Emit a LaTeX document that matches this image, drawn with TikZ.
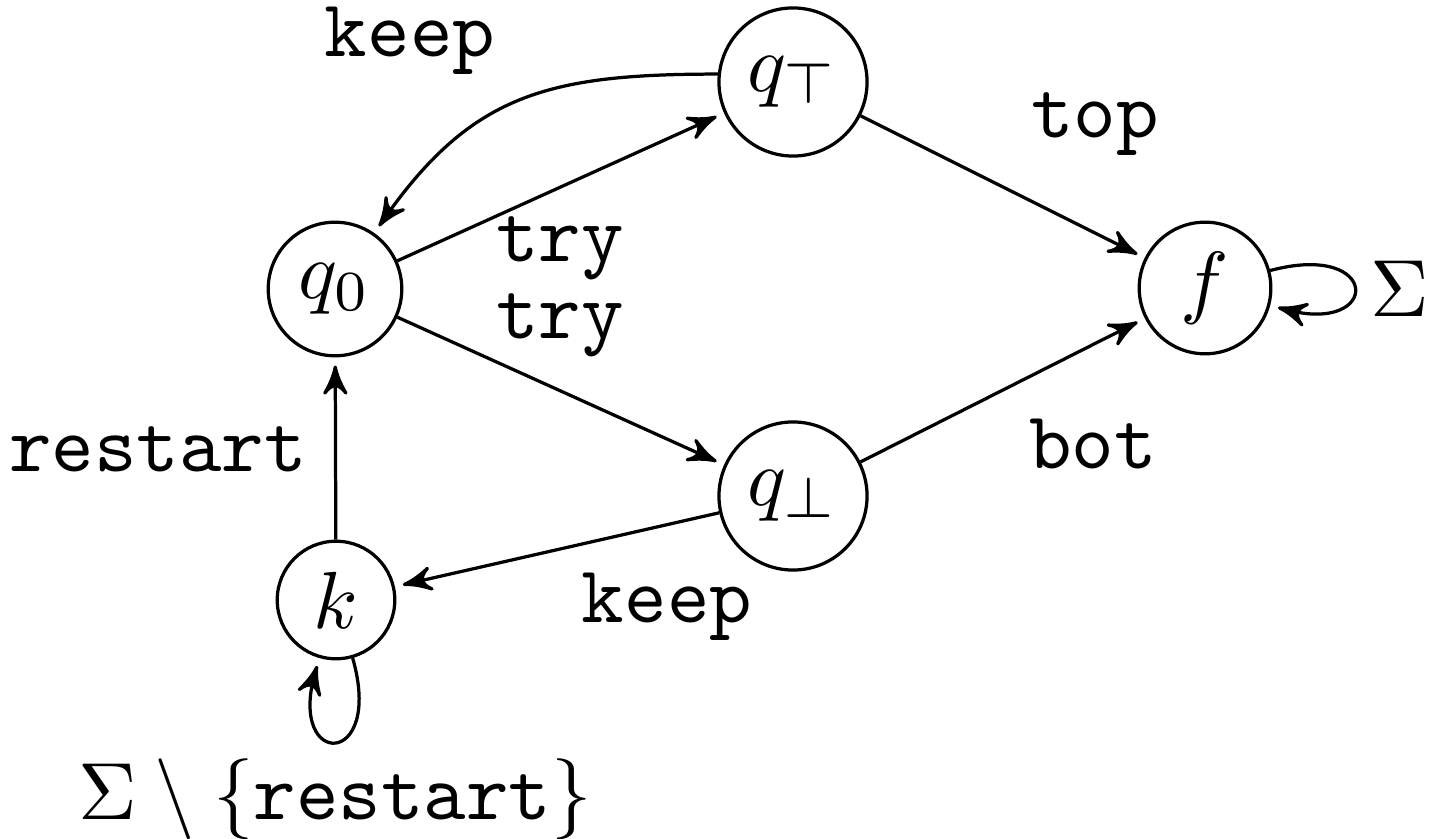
\documentclass[tikz,border=0pt]{standalone}
\usetikzlibrary{arrows,automata}
\begin{document}
\begin{tikzpicture}[x=0.12346pt, y=0.12346pt, >=stealth', shorten >=1pt, thin,
  st/.style={circle, draw, inner sep=2pt, minimum size=0pt},
  lbl/.style={anchor=base, inner sep=0pt}]
\useasboundingbox (0,-838) rectangle (1429,0);
\node[st] (q0) at (335,-289) {$q_0$};
\node[st] (qT) at (793,-82) {$q_\top$};
\node[st] (qB) at (793,-496) {$q_\bot$};
\node[st] (f) at (1205,-288) {$f$};
\node[st] (k) at (336,-600) {$k$};

\draw[->] (q0) -- (qT);
\draw[->] (qT.174) to[out=180,in=55,looseness=1.15] (q0);
\draw[->] (qT) -- (f);
\draw[->] (q0) -- (qB);
\draw[->] (qB) -- (f);
\draw[->] (qB) -- (k);
\draw[->] (k) -- (q0);
\draw[->] (f.15) .. controls +(15:5mm) and +(-15:5mm) .. (f.-15);
\draw[->] (k.-74) .. controls +(-74:5mm) and +(-106:5mm) .. (k.-106);

\node[lbl] (l1) at (410,-57) {\texttt{keep}};
\node[lbl] (l2) at (560,-262) {\texttt{try}};
\node[lbl] (l3) at (560,-339) {\texttt{try}};
\node[lbl] (l4) at (1095,-138) {\texttt{top}};
\node[lbl] (l5) at (1093,-468) {\texttt{bot}};
\node[lbl] (l6) at (667,-622) {\texttt{keep}};
\node[lbl] (l7) at (158,-471) {\texttt{restart}};
\node[lbl] (l8) at (1400,-317) {$\Sigma$};
\node[lbl] (l9) at (335,-819) {$\Sigma\setminus\{\texttt{restart}\}$};
\end{tikzpicture}
\end{document}
